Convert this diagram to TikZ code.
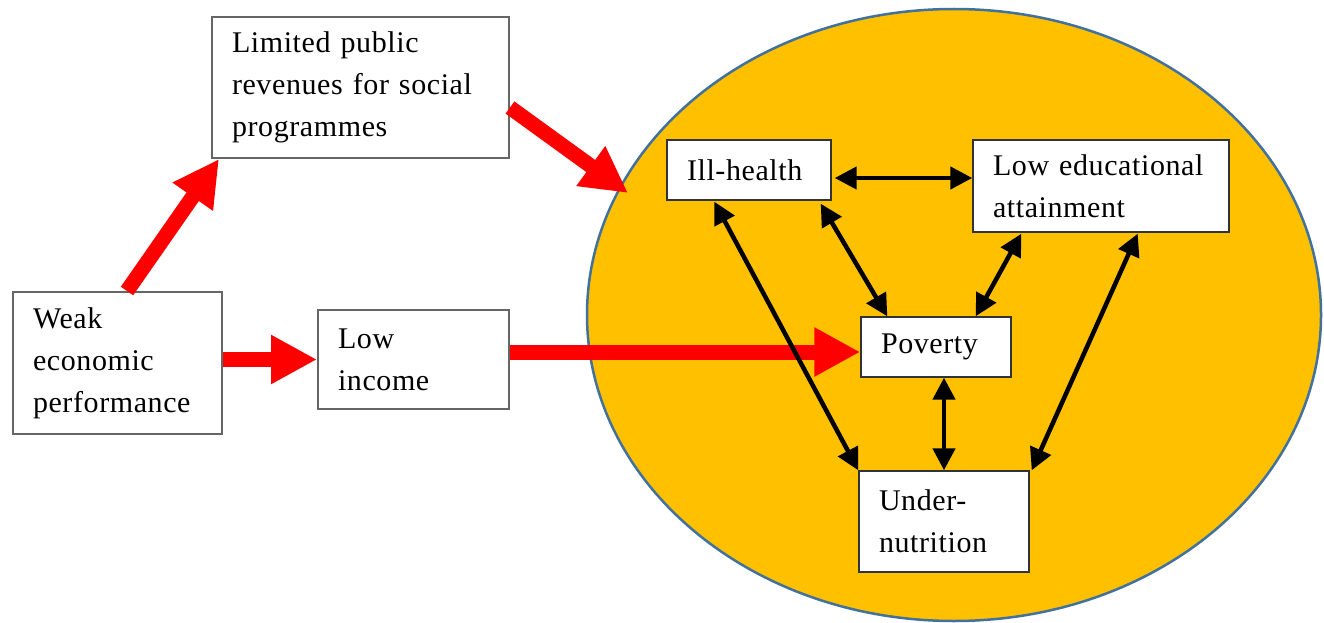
\documentclass[tikz,border=0pt]{standalone}
\usepackage{fontspec}
\setmainfont[LetterSpace=2]{Liberation Serif}
\usetikzlibrary{arrows.meta,shapes.geometric}
\definecolor{gold}{HTML}{FFC000}
\definecolor{rimblue}{HTML}{41719C}
\begin{document}
\begin{tikzpicture}[x=1pt,y=-1pt,
  every node/.style={font=\fontsize{30}{42}\selectfont},
  outerbox/.style={draw=black!60, line width=2pt, fill=white, inner xsep=20pt, inner ysep=0pt, align=left},
  innerbox/.style={draw=black!80, line width=1.4pt, fill=white, inner xsep=20pt, inner ysep=0pt, align=left},
  bigarrow/.style={draw=red, line width=15pt, -{Triangle[length=46pt,width=46pt]}},
  linkarrow/.style={draw=black, line width=4.5pt, {Triangle[length=22pt,width=22pt]}-{Triangle[length=22pt,width=22pt]}},
]
\useasboundingbox (0,0) rectangle (1324,623);

% the shaded circle of interlinked deprivations
\node[ellipse, draw=rimblue, line width=2.5pt, fill=gold, inner sep=0pt,
      minimum width=734pt, minimum height=612pt] (circ) at (954,315) {};

% causes outside the circle
\node[outerbox, minimum width=297pt, minimum height=141pt, text width=257pt] (lim) at (360.5,87.5)
  {Limited public\\revenues for social\\programmes};
\node[outerbox, minimum width=209pt, minimum height=142pt, text width=169pt] (weak) at (117.5,363)
  {Weak\\economic\\performance};
\node[outerbox, minimum width=191pt, minimum height=99pt, text width=151pt] (low) at (413.5,359.5)
  {Low\\income};

% deprivations inside the circle
\node[innerbox, minimum width=164pt, minimum height=60pt, text width=124pt] (ill) at (749,170)
  {Ill-health};
\node[innerbox, minimum width=256pt, minimum height=92pt, text width=216pt] (edu) at (1101,186)
  {Low educational\\attainment};
\node[innerbox, minimum width=150pt, minimum height=60pt, text width=110pt] (pov) at (936,347)
  {Poverty};
\node[innerbox, minimum width=170pt, minimum height=101pt, text width=130pt] (under) at (944,521.5)
  {Under-\\nutrition};

% red causal arrows
\coordinate (hit) at (628,193);
\path ([yshift=-5pt]pov.west) coordinate (povin);
\draw[bigarrow] ([xshift=115pt]weak.north west) -- ([xshift=8pt]lim.south west);
\draw[bigarrow] (weak.east |- low.west) -- (low.west);
\draw[bigarrow] ([yshift=-20pt]lim.east) -- (hit);
\draw[bigarrow] (low.east |- povin) -- (povin);

% two-way links between the deprivations
\draw[linkarrow] ([xshift=3pt,yshift=-8pt]ill.east) -- ([yshift=8pt]edu.west);
\draw[linkarrow] ([xshift=48pt,yshift=-1pt]ill.south west) -- (under.north west);
\draw[linkarrow] ([xshift=-11pt,yshift=-3pt]ill.south east) -- ([xshift=27pt]pov.north west);
\draw[linkarrow] ([xshift=49pt,yshift=-1pt]edu.south west) -- ([xshift=-36pt]pov.north east);
\draw[linkarrow] (pov.south -| under.north) -- (under.north);
\draw[linkarrow] ([xshift=-92pt,yshift=-1pt]edu.south east) -- ([xshift=2pt]under.north east);
\end{tikzpicture}
\end{document}
